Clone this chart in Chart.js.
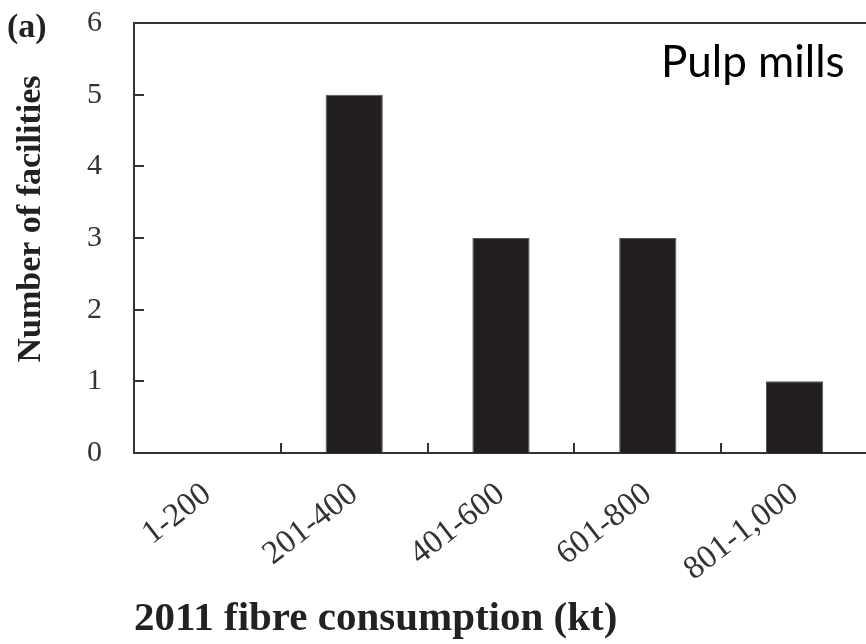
<!DOCTYPE html>
<html lang="en">
<head>
<meta charset="UTF-8">
<title>Pulp mills - 2011 fibre consumption</title>
<script src="https://cdn.jsdelivr.net/npm/chart.js"></script>
<style>
  html, body { margin: 0; padding: 0; background: #fff; overflow: hidden; }
</style>
</head>
<body>
<canvas id="chart" width="870" height="644"></canvas>
<script>
const categories = ["1-200", "201-400", "401-600", "601-800", "801-1,000"];
const facilities = [0, 5, 3, 3, 1];
const yTicks = [0, 1, 2, 3, 4, 5, 6];

const serif = '"Liberation Serif", "Times New Roman", serif';

// top frame line, inward ticks and the loose labels
const framePlugin = {
  id: 'frame',
  afterDraw(chart) {
    const { ctx, chartArea: a, scales: { x, y } } = chart;
    ctx.save();
    ctx.strokeStyle = '#333';
    ctx.lineWidth = 2;
    ctx.beginPath();
    ctx.moveTo(a.left - 1, a.top);
    ctx.lineTo(a.right, a.top);
    yTicks.forEach(v => {
      if (v > 0 && v < yTicks[yTicks.length - 1]) {
        const py = Math.round(y.getPixelForValue(v));
        ctx.moveTo(a.left, py);
        ctx.lineTo(a.left + 10, py);
      }
    });
    for (let i = 1; i < categories.length; i++) {
      const px = Math.round((x.getPixelForValue(i - 1) + x.getPixelForValue(i)) / 2);
      ctx.moveTo(px, a.bottom);
      ctx.lineTo(px, a.bottom - 10);
    }
    ctx.stroke();

    ctx.fillStyle = '#222';
    ctx.textBaseline = 'alphabetic';
    ctx.font = 'bold 34px ' + serif;
    ctx.fillText('(a)', 7, 37);

    // y axis title, sits a bit above the middle of the axis
    ctx.save();
    ctx.translate(40, 219);
    ctx.rotate(-Math.PI / 2);
    ctx.textAlign = 'center';
    ctx.font = 'bold 34px ' + serif;
    ctx.fillText('Number of facilities', 0, 0);
    ctx.restore();

    ctx.fillStyle = '#000';
    ctx.font = '44px Lato, "Open Sans", sans-serif';
    ctx.fillText('Pulp mills', 661, 77);
    ctx.restore();
  }
};

new Chart(document.getElementById('chart'), {
  type: 'bar',
  data: {
    labels: categories,
    datasets: [{
      label: 'Number of facilities',
      data: facilities,
      backgroundColor: '#231f20',
      borderColor: '#555',
      borderWidth: 1,
      categoryPercentage: 1,
      barPercentage: 0.39
    }]
  },
  options: {
    responsive: false,
    animation: false,
    layout: { padding: { top: 23, right: 2, bottom: 0, left: 0 } },
    plugins: {
      legend: { display: false },
      tooltip: { enabled: false }
    },
    scales: {
      x: {
        offset: true,
        grid: { display: false, drawTicks: false },
        border: { display: true, color: '#333', width: 2 },
        ticks: {
          autoSkip: false,
          maxRotation: 38,
          minRotation: 38,
          padding: 22,
          color: '#333',
          font: { family: serif, size: 33 }
        },
        title: {
          display: true,
          text: '2011 fibre consumption (kt)',
          align: 'start',
          color: '#222',
          font: { family: serif, size: 41, weight: 'bold' },
          padding: { top: 0, bottom: 0 }
        },
        afterFit: s => {
          s.height = 191;
          s.paddingLeft = 0;
          s.paddingRight = 0;
        }
      },
      y: {
        min: 0,
        max: 6,
        afterBuildTicks: s => { s.ticks = yTicks.map(v => ({ value: v })); },
        grid: { display: false, drawTicks: false },
        border: { display: true, color: '#333', width: 2 },
        ticks: {
          padding: 32,
          color: '#333',
          font: { family: serif, size: 30 }
        },
        afterFit: s => {
          s.width = 134;
          s.paddingTop = 0;
          s.paddingBottom = 0;
        }
      }
    }
  },
  plugins: [framePlugin]
});
</script>
</body>
</html>
